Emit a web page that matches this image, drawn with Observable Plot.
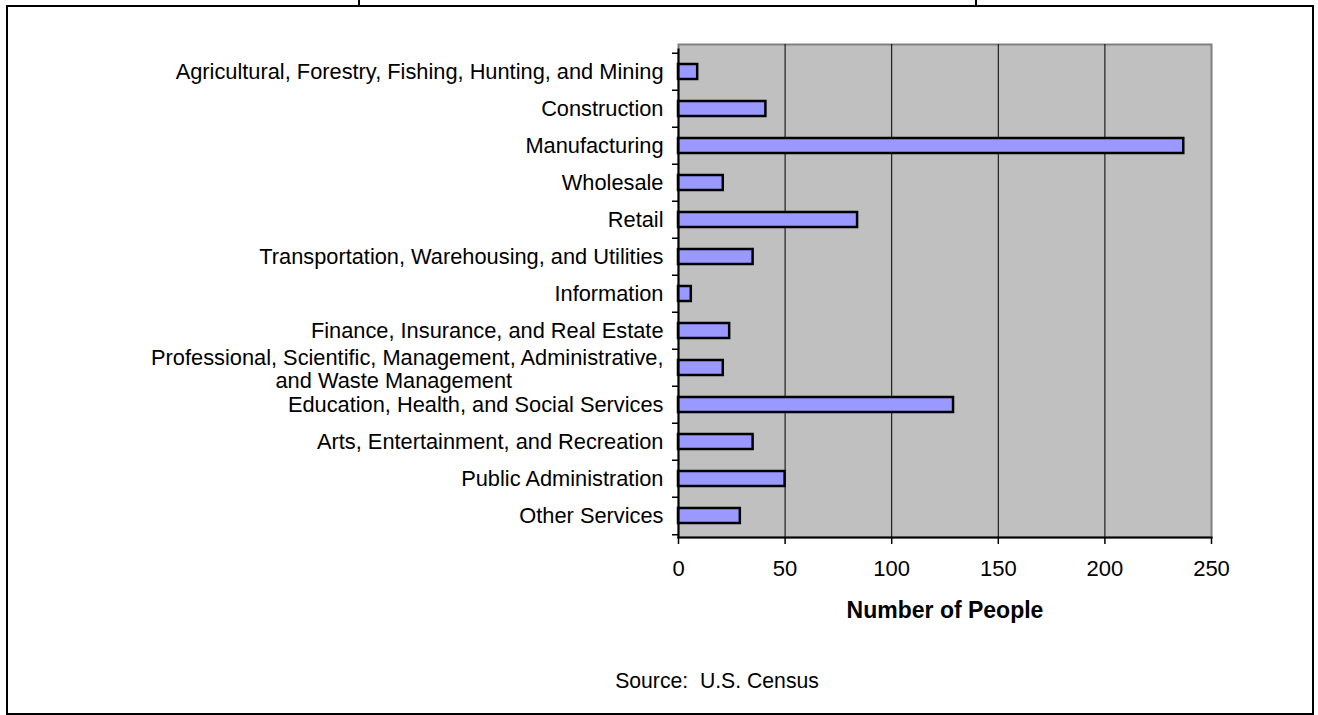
<!DOCTYPE html>
<html>
<head>
<meta charset="utf-8">
<script src="https://cdn.jsdelivr.net/npm/d3@7"></script>
<script src="https://cdn.jsdelivr.net/npm/@observablehq/plot@0.6"></script>
<style>
  html, body { margin: 0; padding: 0; background: #fff; }
  body { font-family: "Liberation Sans", Arial, sans-serif; }
  #wrap { position: relative; width: 1318px; height: 715px; overflow: hidden; }
  #box { position: absolute; left: 6px; top: 5px; width: 1304px; height: 706px; border: 2px solid #000; }
  .vline { position: absolute; top: 0; width: 2px; height: 6px; background: #000; }
  #source { position: absolute; top: 670px; left: 717px; transform: translateX(-50%); font-size: 21.2px; line-height: 21px; white-space: pre; color: #000; }
  #chart { position: absolute; left: 0; top: 0; }
  #chart svg { font-family: "Liberation Sans", Arial, sans-serif; overflow: visible; }
</style>
</head>
<body>
<div id="wrap">
  <div id="box"></div>
  <div class="vline" style="left:358px"></div>
  <div class="vline" style="left:975px"></div>
  <div id="chart"></div>
  <div id="source">Source:  U.S. Census</div>
</div>
<script>
const categories = [
  "Agricultural, Forestry, Fishing, Hunting, and Mining",
  "Construction",
  "Manufacturing",
  "Wholesale",
  "Retail",
  "Transportation, Warehousing, and Utilities",
  "Information",
  "Finance, Insurance, and Real Estate",
  "Professional, Scientific, Management, Administrative, and Waste Management",
  "Education, Health, and Social Services",
  "Arts, Entertainment, and Recreation",
  "Public Administration",
  "Other Services"
];
const values = [9, 41, 237, 21, 84, 35, 6, 24, 21, 129, 35, 50, 29];
const xTicks = [0, 50, 100, 150, 200, 250];
const gridValues = [50, 100, 150, 200];
const wrappedCategory = categories[8];
const wrappedLines = ["Professional, Scientific, Management, Administrative,", "and Waste Management"];
const xLabel = "Number of People";

const data = categories.map((c, i) => ({category: c, value: values[i]}));

const W = 1318, H = 715;
const mTop = 44, mBottom = 178, insetTop = 5;
const step = (H - mBottom - mTop - insetTop) / categories.length;
const labelSize = 21.8;

const chart = Plot.plot({
  width: W,
  height: H,
  marginLeft: 678,
  marginRight: 107,
  marginTop: mTop,
  marginBottom: mBottom,
  style: {background: "transparent", color: "#000", fontFamily: "Liberation Sans, Arial, sans-serif"},
  x: {domain: [0, 250], axis: null},
  y: {domain: categories, paddingInner: 0.6, paddingOuter: 0.3, insetTop: insetTop, axis: null},
  marks: [
    Plot.frame({fill: "#c0c0c0", stroke: "#808080", strokeWidth: 2}),
    Plot.ruleX(gridValues, {stroke: "#000", strokeWidth: 1}),
    Plot.barX(data, {x: "value", y: "category", fill: "#9999ff", stroke: "#000", strokeWidth: 2.5}),
    Plot.frame({anchor: "left", insetTop: insetTop, stroke: "#000", strokeWidth: 2}),
    Plot.frame({anchor: "bottom", stroke: "#000", strokeWidth: 2}),
    Plot.axisX({ticks: xTicks, tickSize: 7, tickPadding: 16, fontSize: 22, label: null, stroke: "#000", strokeWidth: 1.5}),
    Plot.axisY({ticks: categories, tickSize: 6, text: null, label: null, dy: -step / 2, stroke: "#000", strokeWidth: 1.5}),
    Plot.axisY({ticks: [categories[categories.length - 1]], tickSize: 6, text: null, label: null, dy: step / 2, stroke: "#000", strokeWidth: 1.5}),
    Plot.text(categories.filter(c => c !== wrappedCategory), {x: () => 0, y: d => d, text: d => d, textAnchor: "end", dx: -15, fontSize: labelSize, fill: "#000"}),
    Plot.text([wrappedLines[0]], {x: () => 0, y: () => wrappedCategory, text: d => d, textAnchor: "end", dx: -15, dy: -10, fontSize: labelSize, fill: "#000"}),
    Plot.text([wrappedLines[1]], {x: () => 0, y: () => wrappedCategory, text: d => d, textAnchor: "start", dx: -403, dy: 13, fontSize: labelSize, fill: "#000"}),
    Plot.text([xLabel], {frameAnchor: "bottom", lineAnchor: "top", dy: 64, text: d => d, fontSize: 23, fontWeight: "bold", fill: "#000"})
  ]
});
document.getElementById("chart").appendChild(chart);
</script>
</body>
</html>
